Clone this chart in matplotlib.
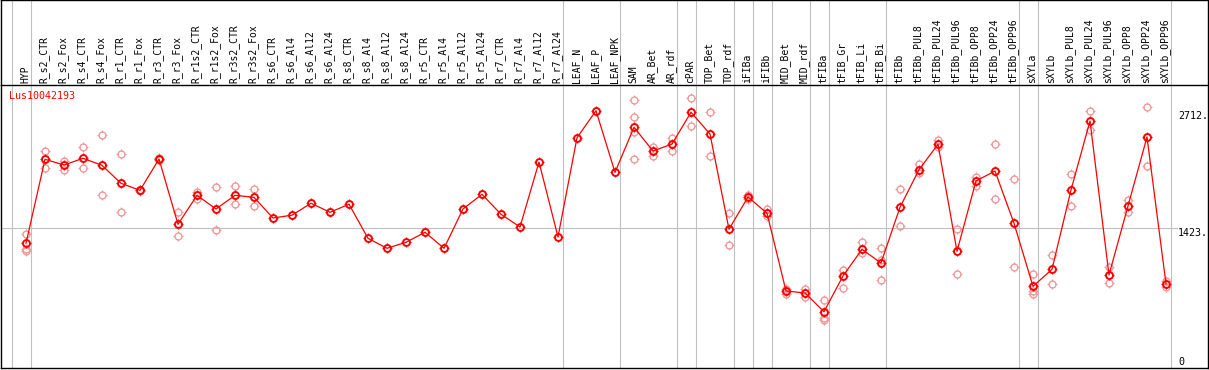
import numpy as np
import matplotlib
matplotlib.use("Agg")
import matplotlib.pyplot as plt
from matplotlib.path import Path

# sample names along the x axis
samples = ["HYP",
           "R_s2_CTR", "R_s2_Fox", "R_s4_CTR", "R_s4_Fox", "R_r1_CTR", "R_r1_Fox",
           "R_r3_CTR", "R_r3_Fox", "R_r1s2_CTR", "R_r1s2_Fox", "R_r3s2_CTR", "R_r3s2_Fox",
           "R_s6_CTR", "R_s6_Al4", "R_s6_Al12", "R_s6_Al24", "R_s8_CTR", "R_s8_Al4",
           "R_s8_Al12", "R_s8_Al24", "R_r5_CTR", "R_r5_Al4", "R_r5_Al12", "R_r5_Al24",
           "R_r7_CTR", "R_r7_Al4", "R_r7_Al12", "R_r7_Al24",
           "LEAF_N", "LEAF_P", "LEAF_NPK",
           "SAM", "AR_Bet", "AR_rdf",
           "cPAR",
           "TOP_Bet", "TOP_rdf",
           "iFIBa",
           "iFIBb",
           "MID_Bet", "MID_rdf",
           "tFIBa",
           "tFIB_Gr", "tFIB_Li", "tFIB_Bi",
           "tFIBb", "tFIBb_PUL8", "tFIBb_PUL24", "tFIBb_PUL96", "tFIBb_OPP8",
           "tFIBb_OPP24", "tFIBb_OPP96",
           "sXYLa",
           "sXYLb", "sXYLb_PUL8", "sXYLb_PUL24", "sXYLb_PUL96", "sXYLb_OPP8",
           "sXYLb_OPP24", "sXYLb_OPP96"]

# sizes of the sample groups (separated by grey lines)
group_sizes = [1, 28, 3, 3, 1, 2, 1, 1, 2, 1, 3, 7, 1, 7]

# mean expression per sample
means = [1255,
         2178, 2115, 2189, 2112, 1914, 1837, 2181, 1464, 1782, 1632, 1782, 1760,
         1533, 1564, 1695, 1596, 1684, 1310, 1200, 1266, 1376, 1200, 1632, 1793,
         1574, 1434, 2148, 1324,
         2415, 2712, 2035,
         2530, 2269, 2346,
         2695,
         2456, 1409,
         1764,
         1585,
         731, 709,
         503,
         896, 1189, 1038,
         1651, 2064, 2343, 1167, 1940, 2049, 1475,
         782,
         969, 1841, 2599, 907, 1665, 2423, 808]

# individual replicates per sample
replicates = [[1357, 1192, 1170],
              [2269, 2086], [2159, 2060], [2310, 2079], [2445, 1782], [2233, 1599],
              [1830, 1845], [2170, 2192], [1599, 1335], [1822, 1742], [1870, 1398],
              [1881, 1684], [1852, 1668],
              [], [], [], [], [], [], [], [], [], [], [], [], [], [], [], [],
              [], [], [],
              [2826, 2642, 2481, 2178], [2316, 2218], [2415, 2273],
              [2852, 2544],
              [2695, 2214], [1585, 1236],
              [1782, 1745],
              [1632, 1555],
              [753, 695], [749, 665],
              [632, 437, 412],
              [962, 760], [1269, 1145], [1200, 1071, 848],
              [1848, 1445], [2126, 2024], [2390, 2316], [1409, 918], [1987, 1888],
              [2346, 1742], [1962, 991],
              [918, 731, 695],
              [1126, 808], [2013, 1662], [2705, 2500], [998, 815], [1731, 1596],
              [2749, 2104], [844, 771]]

gene = "Lus10042193"
yticks = [0, 1423, 2712]
ytick_labels = ["0", "1423.", "2712."]

W, H = 1209, 370
fig = plt.figure(figsize=(W / 100, H / 100), dpi=100)
mono = "DejaVu Sans Mono"

x = np.arange(len(samples))
xlim = ((1 - 26) / 19, (1208 - 26) / 19)
bounds = np.concatenate([[-1], np.cumsum(group_sizes) - 1]) + 0.24

# header with the sample names
hax = fig.add_axes([1 / W, 1 - 85 / H, 1207 / W, 85 / H])
hax.set_xlim(*xlim)
hax.set_ylim(0, 1)
hax.set_xticks([])
hax.set_yticks([])
hax.spines["bottom"].set_visible(False)
for b in bounds:
    hax.axvline(b, color="#c0c0c0", lw=0.8)
for i, name in enumerate(samples):
    hax.text(i - 0.05, 2 / 85, name, rotation=90, ha="center", va="bottom",
             fontsize=7, family=mono, color="black")

# main plot
ax = fig.add_axes([1 / W, 2 / H, 1207 / W, 283 / H])
ax.set_xlim(*xlim)
ax.set_ylim(-115.4, 2994.5)
for b in bounds:
    ax.axvline(b, color="#c0c0c0", lw=0.8, zorder=1)
ax.axhline(1423, xmax=(1177 - 1) / 1207, color="#c0c0c0", lw=0.8, zorder=1)

ticks = Path([(0, 1), (0, 1.45), (0, -1), (0, -1.45), (1, 0), (1.45, 0), (-1, 0), (-1.45, 0)],
             [Path.MOVETO, Path.LINETO] * 4)

rx = [i for i, r in enumerate(replicates) for _ in r]
ry = [v for r in replicates for v in r]
ax.plot(rx, ry, "o", ms=5.0, mfc="none", mec="#f09a9a", mew=1.0, zorder=2)
ax.plot(rx, ry, marker=ticks, ls="none", ms=7.2, mec="#f09a9a", mew=0.8, zorder=2)

ax.plot(x, means, "-", color="red", lw=0.9, zorder=3)
ax.plot(x, means, "o", ms=5.0, mfc="none", mec="red", mew=1.4, zorder=4)
ax.plot(x, means, marker=ticks, ls="none", ms=7.2, mec="red", mew=0.9, zorder=4)

ax.set_xticks([])
ax.yaxis.tick_right()
ax.set_yticks(yticks)
ax.set_yticklabels(ytick_labels, family=mono, fontsize=7.2)
ax.tick_params(axis="y", length=0, pad=-21.6)
for t in ax.get_yticklabels():
    t.set_ha("left")
    t.set_va("top")

ax.text(8 / 1207, (368 - 91) / 283, gene, transform=ax.transAxes, color="red",
        fontsize=7.2, family=mono, ha="left", va="top")

for a in (ax, hax):
    for s in a.spines.values():
        s.set_linewidth(1.0)
        s.set_color("black")

fig.savefig("out.png", dpi=100)
